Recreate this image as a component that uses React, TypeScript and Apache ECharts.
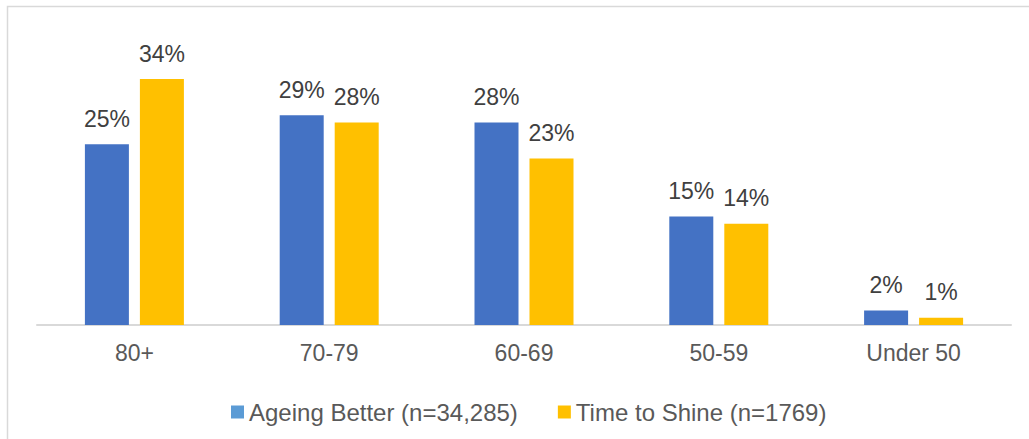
import React, { useEffect, useRef } from "react";
import * as echarts from "echarts";

// Age bands shown along the category axis
const ageBands = ["80+", "70-79", "60-69", "50-59", "Under 50"];

// Share of participants in each age band (%)
const ageingBetter = [25, 29, 28, 15, 2];
const timeToShine = [34, 28, 23, 14, 1];

const seriesNames = ["Ageing Better (n=34,285)", "Time to Shine (n=1769)"];

const FONT = "'Liberation Sans', Arial, Helvetica, sans-serif";

export default function App() {
  const ref = useRef<HTMLDivElement>(null);

  useEffect(() => {
    if (!ref.current) return;
    const chart = echarts.init(ref.current, undefined, { renderer: "svg" });

    const label = {
      show: true,
      position: "top" as const,
      distance: 14,
      formatter: "{c}%",
      color: "#404040",
      fontSize: 23,
      fontFamily: FONT,
    };

    chart.setOption({
      animation: false,
      backgroundColor: "#ffffff",
      textStyle: { fontFamily: FONT },
      graphic: [
        {
          type: "rect",
          shape: { x: 7.5, y: 6.5, width: 1200, height: 600 },
          style: { fill: "none", stroke: "#d9d9d9", lineWidth: 1.5 },
          silent: true,
          z: -1,
        },
      ],
      legend: {
        left: 226,
        top: 395,
        itemWidth: 13,
        itemHeight: 13,
        itemGap: 40,
        icon: "rect",
        textStyle: { color: "#595959", fontSize: 24, fontFamily: FONT },
        data: [
          { name: seriesNames[0], itemStyle: { color: "#5b9bd5" } },
          { name: seriesNames[1], itemStyle: { color: "#ffc000" } },
        ],
      },
      grid: { left: 37, right: 18, top: 35.6, bottom: 114 },
      xAxis: {
        type: "category",
        data: ageBands,
        axisLine: { show: true, lineStyle: { color: "#d9d9d9", width: 2 } },
        axisTick: { show: false },
        axisLabel: {
          color: "#595959",
          fontSize: 23,
          fontFamily: FONT,
          margin: 16,
        },
      },
      yAxis: {
        type: "value",
        min: 0,
        max: 40,
        show: false,
        splitLine: { show: false },
      },
      series: [
        {
          name: seriesNames[0],
          type: "bar",
          data: ageingBetter,
          barWidth: 44,
          barGap: "25%",
          itemStyle: { color: "#4472c4" },
          label,
        },
        {
          name: seriesNames[1],
          type: "bar",
          data: timeToShine,
          barWidth: 44,
          barGap: "25%",
          itemStyle: { color: "#ffc000" },
          label,
        },
      ],
    });

    return () => chart.dispose();
  }, []);

  return (
    <div
      ref={ref}
      style={{ position: "fixed", left: 0, top: 0, width: 1029, height: 439 }}
    />
  );
}
